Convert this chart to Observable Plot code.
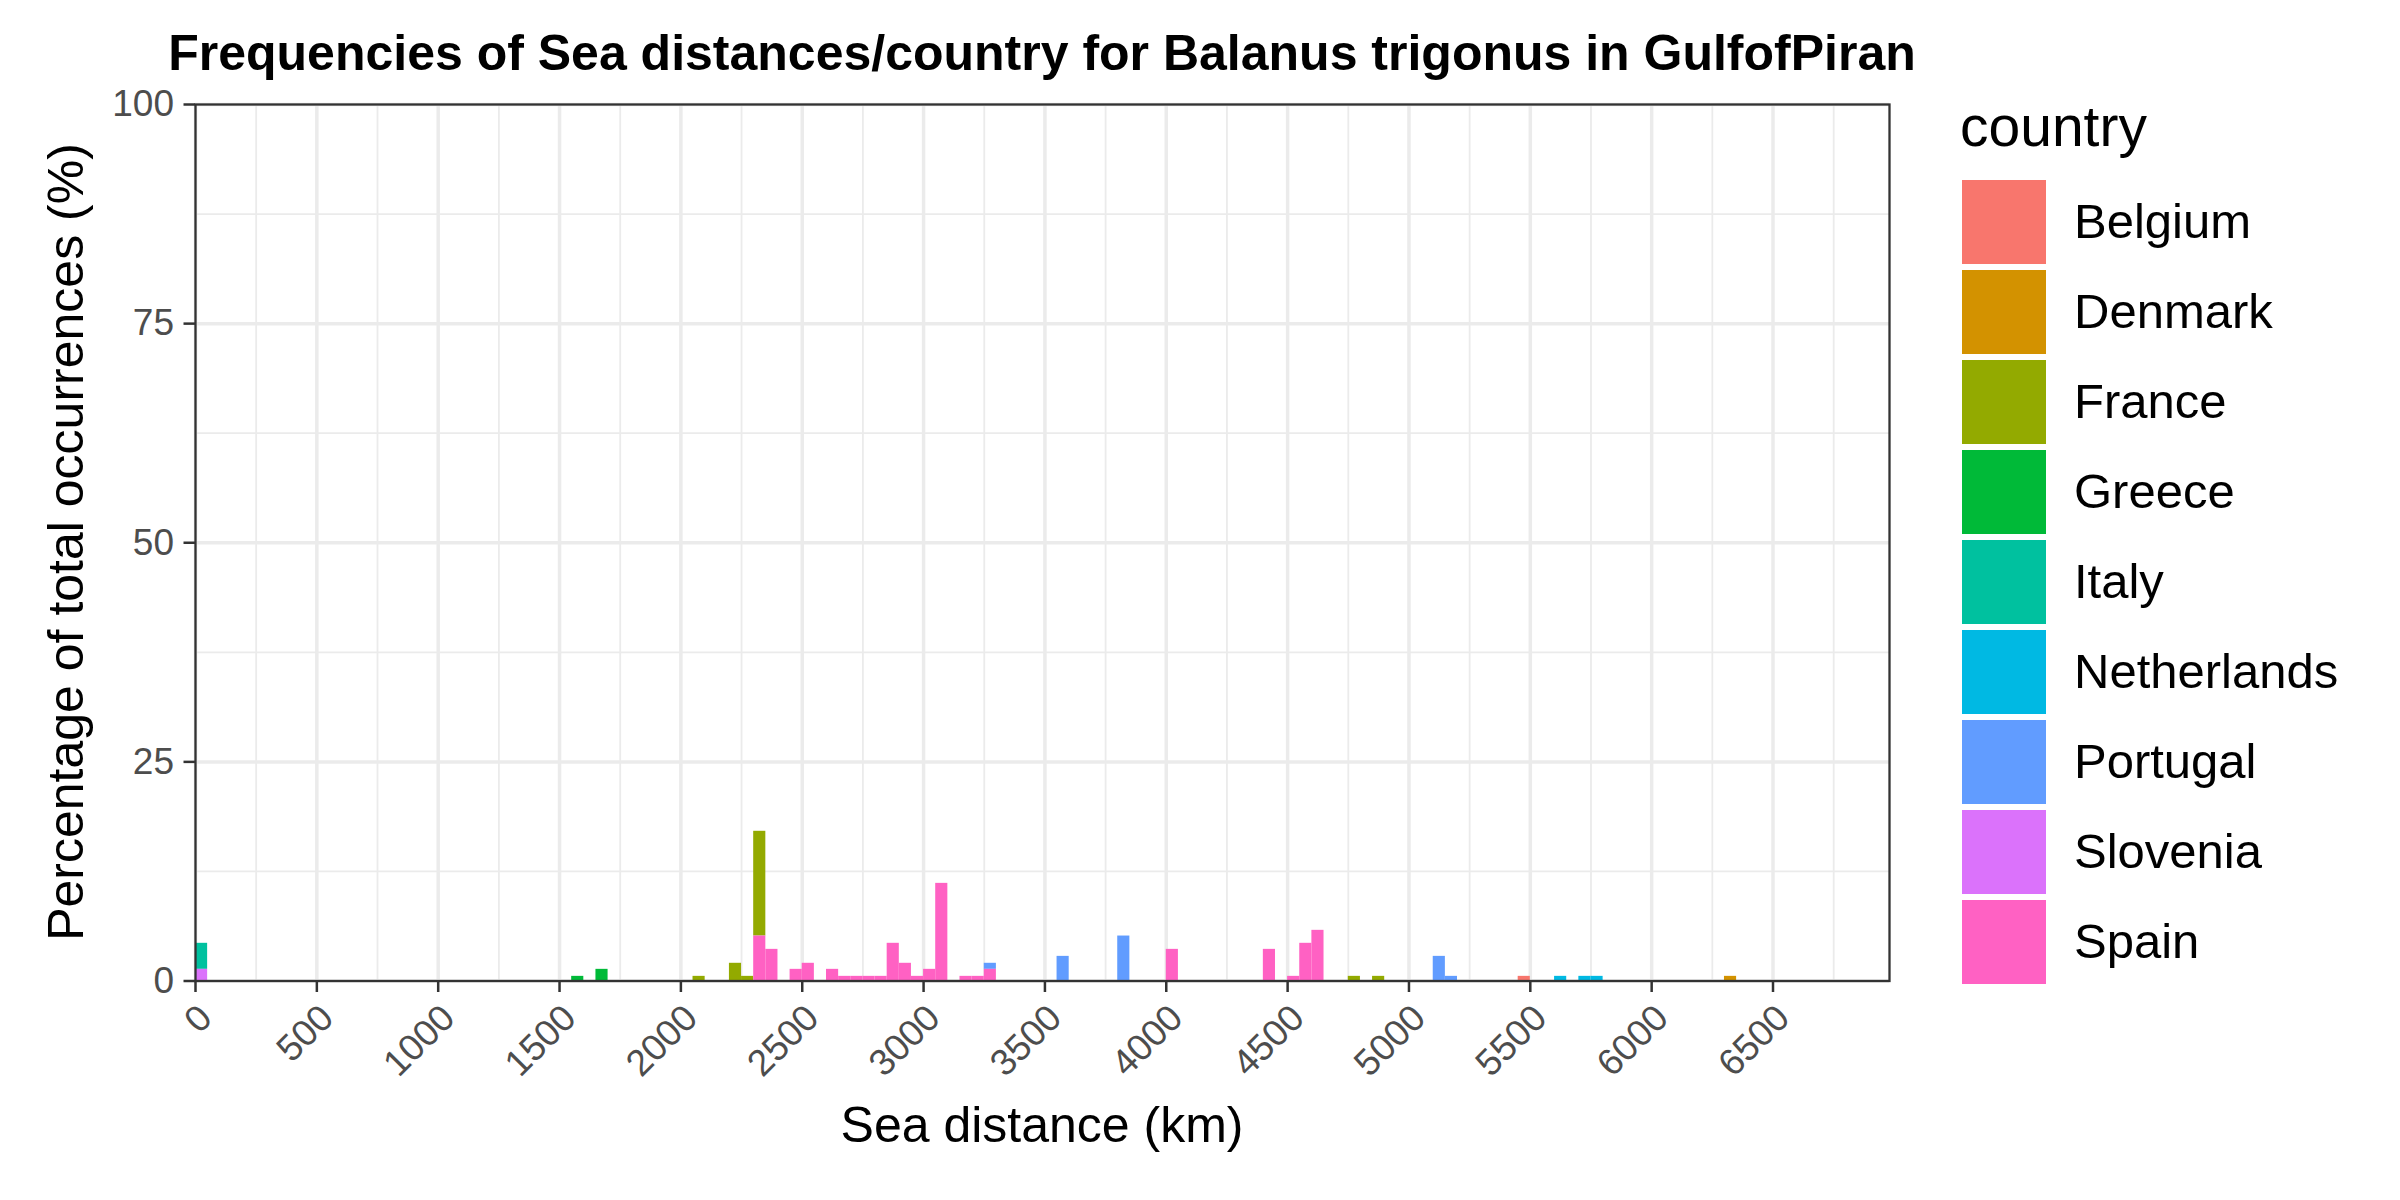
<!DOCTYPE html>
<html>
<head>
<meta charset="utf-8">
<script src="https://cdn.jsdelivr.net/npm/d3@7"></script>
<script src="https://cdn.jsdelivr.net/npm/@observablehq/plot@0.6"></script>
<style>
  body { margin: 0; background: #ffffff; }
  #wrap { position: relative; width: 2400px; height: 1200px; overflow: hidden; background: #ffffff;
          font-family: "Liberation Sans", Arial, Helvetica, sans-serif; }
  #plot { position: absolute; left: 0; top: 0; }
  .txt { position: absolute; line-height: 1; white-space: nowrap; color: #000; }
  #title { left: 42px; width: 2000px; top: 28.4px; text-align: center; font-size: 50px; font-weight: bold; }
  #xtitle { left: 42px; width: 2000px; top: 1099.7px; text-align: center; font-size: 50px; }
  #ytitle { left: -434.3px; width: 1000px; top: 517px; height: 50px; text-align: center; font-size: 50px;
            transform: rotate(-90deg); transform-origin: 500px 25px; }
  #legend { position: absolute; left: 1960px; top: 98.45px; }
  #legtitle { font-size: 57px; line-height: 1; white-space: nowrap; }
  .item { position: absolute; left: 2px; height: 84px; display: flex; align-items: center; }
  .sw { width: 84px; height: 84px; }
  .lab { margin-left: 28px; font-size: 49px; line-height: 1; white-space: nowrap; }
</style>
</head>
<body>
<div id="wrap">
  <div id="plot"></div>
  <div id="title" class="txt"></div>
  <div id="xtitle" class="txt"></div>
  <div id="ytitle" class="txt"></div>
  <div id="legend"><div id="legtitle"></div></div>
</div>
<script>
// ---------------- data ----------------
const titleText = "Frequencies of Sea distances/country for Balanus trigonus in GulfofPiran";
const xTitle = "Sea distance (km)";
const yTitle = "Percentage of total occurrences (%)";
const legendTitle = "country";

const countries = ["Belgium", "Denmark", "France", "Greece", "Italy", "Netherlands", "Portugal", "Slovenia", "Spain"];
const colors = ["#F8766D", "#D39200", "#93AA00", "#00BA38", "#00C19F", "#00B9E3", "#619CFF", "#DB72FB", "#FF61C3"];
const binWidth = 50; // km

// bin start (km) and percentage of total occurrences, per country
const belgiumBins = [5450];
const belgiumPct  = [0.53];
const denmarkBins = [6300];
const denmarkPct  = [0.53];
const franceBins  = [2050, 2200, 2250, 2300, 4750, 4850];
const francePct   = [0.53, 2.02, 0.53, 11.95, 0.53, 0.53];
const greeceBins  = [1550, 1650];
const greecePct   = [0.53, 1.33];
const italyBins   = [0];
const italyPct    = [2.97];
const netherlandsBins = [5600, 5700, 5750];
const netherlandsPct  = [0.53, 0.53, 0.53];
const portugalBins = [3250, 3550, 3800, 5100, 5150];
const portugalPct  = [0.69, 2.81, 5.13, 2.81, 0.53];
const sloveniaBins = [0];
const sloveniaPct  = [1.33];
const spainBins = [2300, 2350, 2450, 2500, 2600, 2650, 2700, 2750, 2800, 2850, 2900, 2950, 3000, 3050, 3150, 3200, 3250, 4000, 4400, 4500, 4550, 4600];
const spainPct  = [5.13, 3.61, 1.33, 2.02, 1.33, 0.53, 0.53, 0.53, 0.53, 4.30, 2.02, 0.53, 1.33, 11.14, 0.53, 0.53, 1.33, 3.61, 3.61, 0.53, 4.30, 5.78];

const xDomain = [0, 6980];
const yDomain = [0, 100];
const xTicks = [0, 500, 1000, 1500, 2000, 2500, 3000, 3500, 4000, 4500, 5000, 5500, 6000, 6500];
const xMinorTicks = [250, 750, 1250, 1750, 2250, 2750, 3250, 3750, 4250, 4750, 5250, 5750, 6250, 6750];
const yTicks = [0, 25, 50, 75, 100];
const yMinorTicks = [12.5, 37.5, 62.5, 87.5];

// ---------------- table ----------------
const series = [
  ["Belgium", belgiumBins, belgiumPct],
  ["Denmark", denmarkBins, denmarkPct],
  ["France", franceBins, francePct],
  ["Greece", greeceBins, greecePct],
  ["Italy", italyBins, italyPct],
  ["Netherlands", netherlandsBins, netherlandsPct],
  ["Portugal", portugalBins, portugalPct],
  ["Slovenia", sloveniaBins, sloveniaPct],
  ["Spain", spainBins, spainPct]
];
const rows = [];
for (const [country, bins, pct] of series) {
  bins.forEach((b, i) => rows.push({country, x1: b, x2: b + binWidth, pct: pct[i]}));
}
const stackOrder = countries.slice().reverse(); // first level on top, as in ggplot

// ---------------- chart ----------------
const gridMinor = {stroke: "#EBEBEB", strokeOpacity: 1, strokeWidth: 1.8};
const gridMajor = {stroke: "#EBEBEB", strokeOpacity: 1, strokeWidth: 3.5};

const chart = Plot.plot({
  width: 2400,
  height: 1200,
  marginLeft: 195,
  marginRight: 511,
  marginTop: 104,
  marginBottom: 219.5,
  style: {fontFamily: '"Liberation Sans", Arial, sans-serif', background: "transparent", overflow: "visible"},
  x: {domain: xDomain},
  y: {domain: yDomain},
  color: {domain: countries, range: colors},
  marks: [
    Plot.gridX(xMinorTicks, gridMinor),
    Plot.gridY(yMinorTicks, gridMinor),
    Plot.gridX(xTicks, gridMajor),
    Plot.gridY(yTicks, gridMajor),
    Plot.rectY(rows, {x1: "x1", x2: "x2", y: "pct", fill: "country", order: stackOrder}),
    Plot.frame({stroke: "#333333", strokeWidth: 2.3}),
    Plot.axisX(xTicks, {
      tickSize: 11.5, tickPadding: 9, tickRotate: -45, textAnchor: "end", lineAnchor: "top",
      fontSize: 37, fill: "#4D4D4D", stroke: "#333333", strokeWidth: 2.5,
      label: null, tickFormat: d => String(d)
    }),
    Plot.axisY(yTicks, {
      tickSize: 11.5, tickPadding: 10, fontSize: 37, fill: "#4D4D4D", stroke: "#333333", strokeWidth: 2.5,
      label: null, tickFormat: d => String(d)
    })
  ]
});
document.getElementById("plot").appendChild(chart);

// ---------------- texts ----------------
document.getElementById("title").textContent = titleText;
document.getElementById("xtitle").textContent = xTitle;
document.getElementById("ytitle").textContent = yTitle;

// ---------------- legend ----------------
const legend = document.getElementById("legend");
document.getElementById("legtitle").textContent = legendTitle;
countries.forEach((c, i) => {
  const item = document.createElement("div");
  item.className = "item";
  item.style.top = (81.55 + i * 90) + "px";
  const sw = document.createElement("div");
  sw.className = "sw";
  sw.style.background = colors[i];
  const lab = document.createElement("div");
  lab.className = "lab";
  lab.textContent = c;
  item.appendChild(sw);
  item.appendChild(lab);
  legend.appendChild(item);
});
</script>
</body>
</html>
